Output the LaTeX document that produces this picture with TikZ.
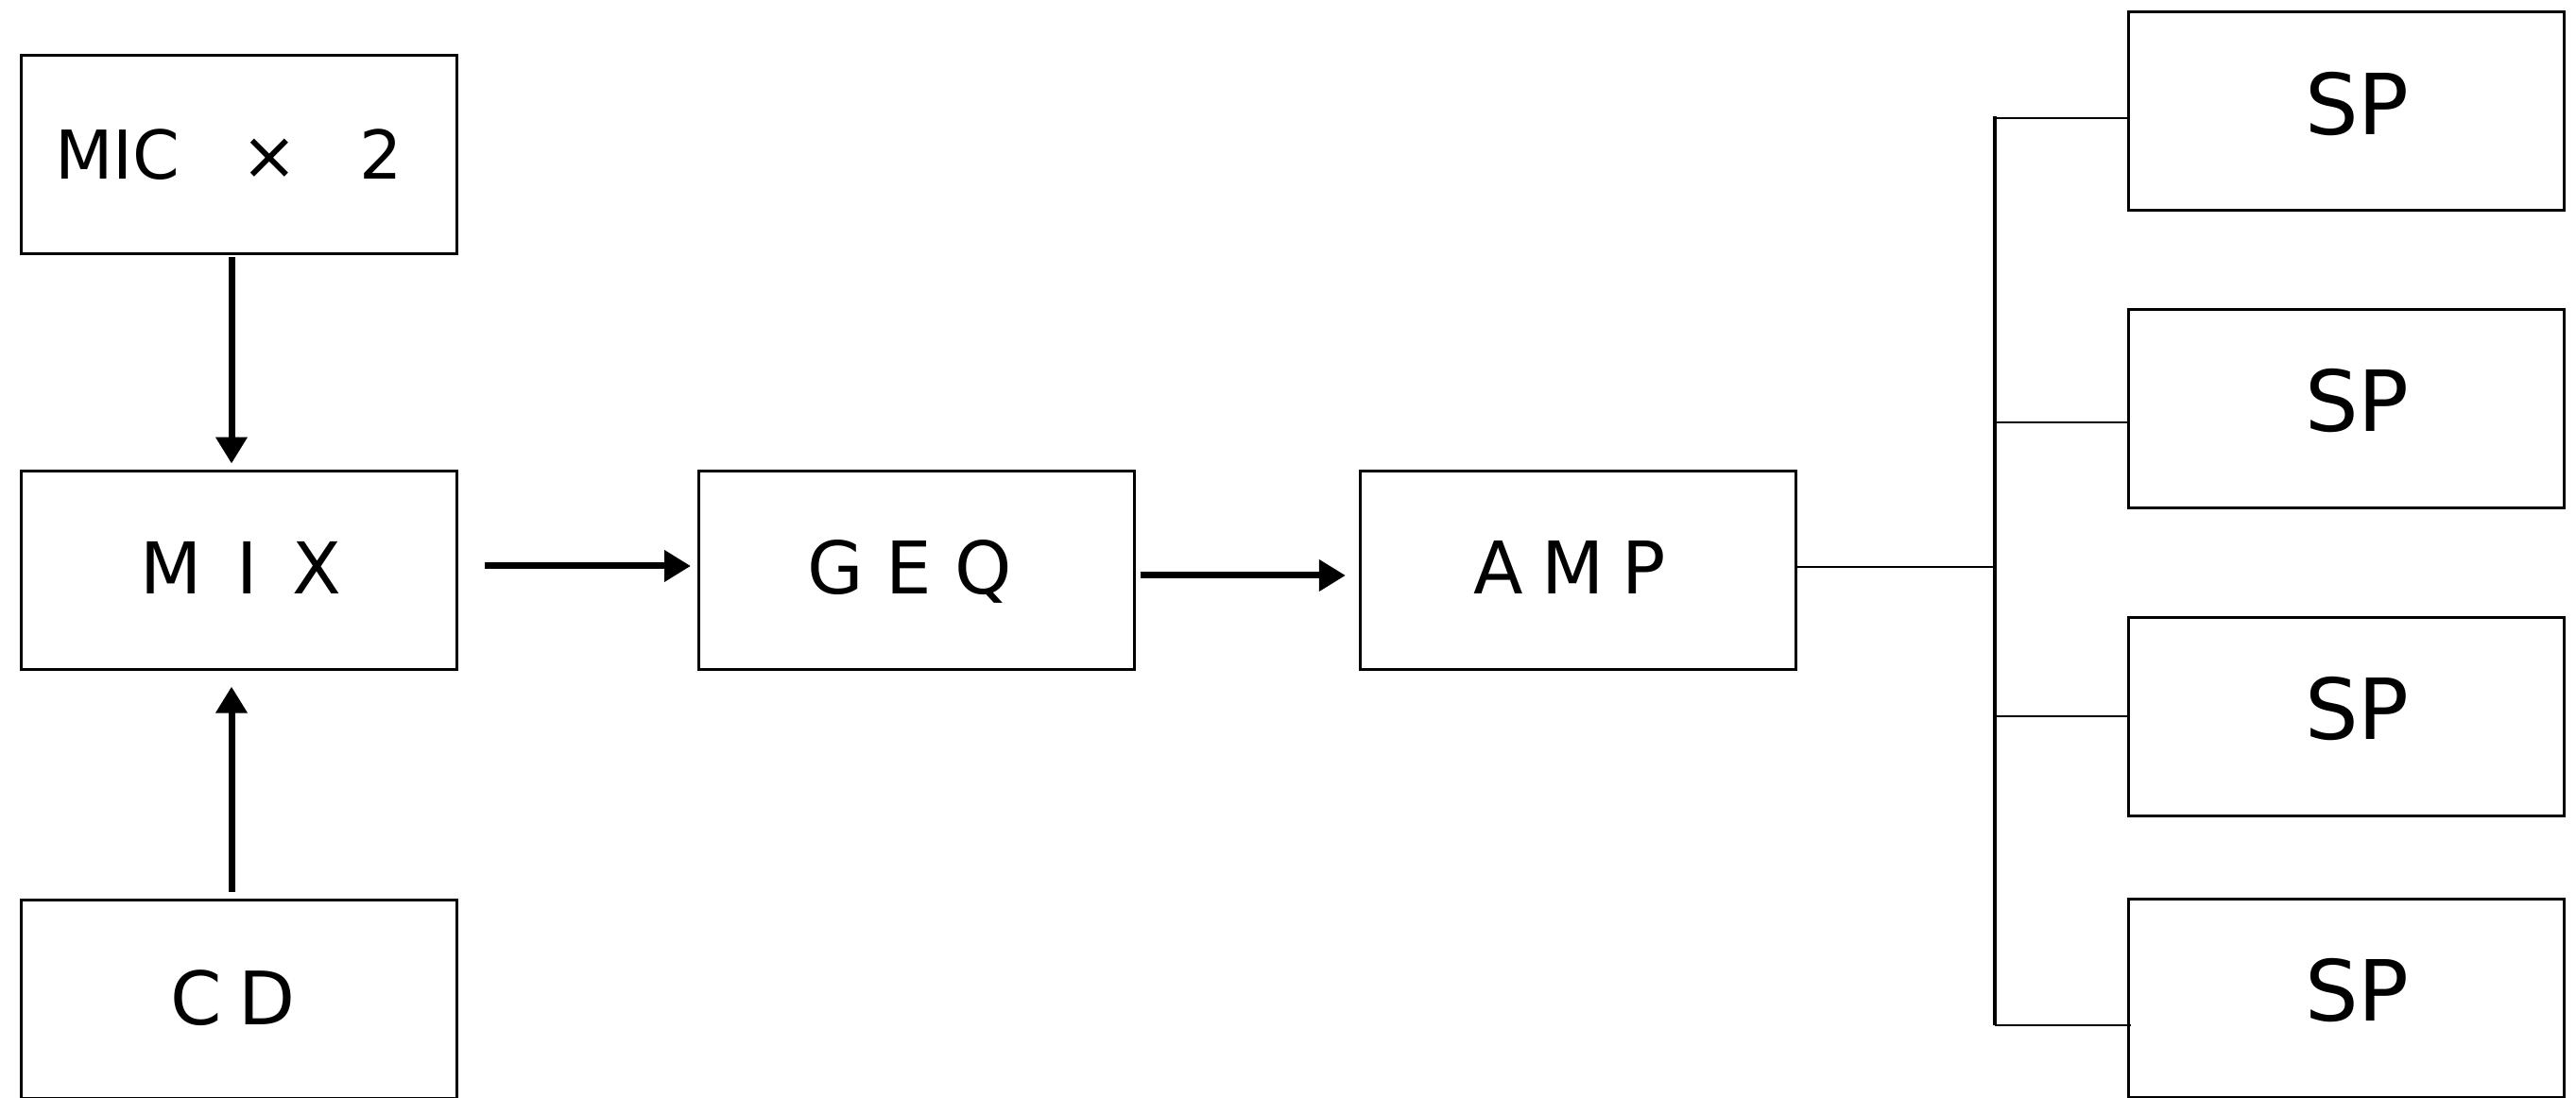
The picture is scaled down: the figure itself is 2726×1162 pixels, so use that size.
\documentclass[tikz,border=0pt]{standalone}
\usepackage{fontspec}
\setmainfont{DejaVu Sans}
\usetikzlibrary{arrows.meta}
\newcommand\fsz[1]{\fontsize{#1}{#1}\selectfont}
\begin{document}
\begin{tikzpicture}[x=0.25pt,y=-0.25pt,
  box/.style={draw, line width=0.75pt, minimum width=115.25pt, minimum height=52.5pt, inner sep=0pt, outer sep=0pt},
  lbl/.style={anchor=base west, inner sep=0pt, outer sep=0pt},
  arr/.style={line width=1.75pt, -{Triangle[width=8pt,length=7pt]}},
  wire/.style={line width=0.7pt},
  busline/.style={line width=0.95pt}]
\useasboundingbox (0,0) rectangle (2726,1162);
% boxes
\node[box] (mic) at (253,163.5) {};
\node[box] (mix) at (253,604) {};
\node[box] (geq) at (969.5,604) {};
\node[box] (amp) at (1670,604) {};
\node[box] (cd) at (253,1057.5) {};
\node[box] (sp1) at (2482.5,118) {};
\node[box] (sp2) at (2482.5,433) {};
\node[box] (sp3) at (2482.5,758.5) {};
\node[box] (sp4) at (2482.5,1056.5) {};
% labels
\node[lbl, font=\fsz{17.8}] (micT) at (58,190) {MIC\hspace{0.92em}×\hspace{0.92em}2};
\node[lbl, font=\fsz{18.9}] (mixT) at (148.5,629) {\spaceskip=0.485em\relax M I X};
\node[lbl, font=\fsz{19.2}] (geqT) at (854,629) {G E Q};
\node[lbl, font=\fsz{19.2}] (ampT) at (1559.4,629) {\spaceskip=0.25em\relax A M P};
\node[lbl, font=\fsz{19.5}] (cdT) at (180.6,1084) {\spaceskip=0.22em\relax C D};
\node[lbl, font=\fsz{22.3}] (sp1T) at (2439,142.5) {SP};
\node[lbl, font=\fsz{22.3}] (sp2T) at (2439,457) {SP};
\node[lbl, font=\fsz{22.3}] (sp3T) at (2439,783) {SP};
\node[lbl, font=\fsz{22.3}] (sp4T) at (2439,1080) {SP};
% arrows
\draw[arr, shorten <=0.9pt, shorten >=2.1pt] ([xshift=-2pt]mic.south) -- ([xshift=-2pt]mix.north);
\draw[arr, shorten <=2.1pt, shorten >=4.4pt] ([xshift=-2pt]cd.north) -- ([xshift=-2pt]mix.south);
\draw[arr, shorten <=7.35pt, shorten >=2pt] ([yshift=1.25pt]mix.east) -- ([yshift=1.25pt]geq.west);
\draw[arr, shorten <=1.75pt, shorten >=3.9pt] ([yshift=-1.25pt]geq.east) -- ([yshift=-1.25pt]amp.west);
% bus
\coordinate (busTop) at (2111,123);
\coordinate (busBot) at (2111,1085);
\coordinate (b1) at (2111,125);
\coordinate (b2) at (2111,447);
\coordinate (b3) at (2111,758);
\draw[wire] ([yshift=1pt]amp.east) -- ([yshift=1pt]amp.east -| busTop);
\draw[busline] (busTop) -- (busBot);
\draw[wire] (b1) -- (b1 -| sp1.west);
\draw[wire] (b2) -- (b2 -| sp2.west);
\draw[wire] (b3) -- (b3 -| sp3.west);
\draw[wire] (busBot) -- ([xshift=0.8pt]busBot -| sp4.west);
\end{tikzpicture}
\end{document}
